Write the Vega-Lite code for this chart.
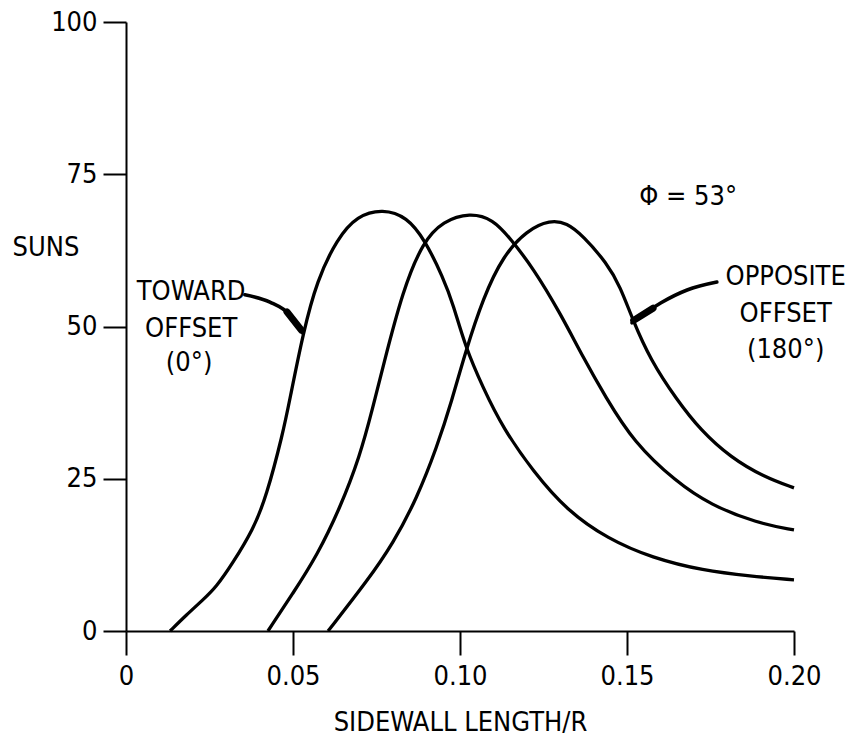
{
  "$schema": "https://vega.github.io/schema/vega-lite/v6.json",
  "width": 668,
  "height": 609,
  "autosize": "none",
  "padding": {"left": 126, "top": 22, "right": 58, "bottom": 115},
  "background": "white",
  "config": {
    "view": {"stroke": null},
    "font": "DejaVu Sans Condensed, Roboto, sans-serif",
    "axis": {
      "grid": false,
      "domainColor": "black",
      "domainWidth": 2,
      "tickColor": "black",
      "tickWidth": 2,
      "labelColor": "black",
      "titleColor": "black",
      "labelFontSize": 27,
      "titleFontSize": 27,
      "titleFontWeight": "normal",
      "labelFont": "DejaVu Sans Condensed, Roboto, sans-serif",
      "titleFont": "DejaVu Sans Condensed, Roboto, sans-serif"
    }
  },
  "datasets": {
    "curves": [
      {"series": "toward", "x": 0.0132, "y": 0},
      {"series": "toward", "x": 0.018, "y": 2.6},
      {"series": "toward", "x": 0.023, "y": 5.1},
      {"series": "toward", "x": 0.027, "y": 7.2},
      {"series": "toward", "x": 0.032, "y": 11.2},
      {"series": "toward", "x": 0.038, "y": 16.6},
      {"series": "toward", "x": 0.042, "y": 22.0},
      {"series": "toward", "x": 0.047, "y": 32.5},
      {"series": "toward", "x": 0.049, "y": 37.9},
      {"series": "toward", "x": 0.053, "y": 48.9},
      {"series": "toward", "x": 0.0572, "y": 57.6},
      {"series": "toward", "x": 0.0632, "y": 64.4},
      {"series": "toward", "x": 0.0692, "y": 68.2},
      {"series": "toward", "x": 0.0769, "y": 69.3},
      {"series": "toward", "x": 0.0841, "y": 68.0},
      {"series": "toward", "x": 0.0895, "y": 64.2},
      {"series": "toward", "x": 0.0949, "y": 58.1},
      {"series": "toward", "x": 0.098, "y": 53.6},
      {"series": "toward", "x": 0.1015, "y": 46.8},
      {"series": "toward", "x": 0.107, "y": 39.8},
      {"series": "toward", "x": 0.1129, "y": 33.3},
      {"series": "toward", "x": 0.1219, "y": 26.2},
      {"series": "toward", "x": 0.132, "y": 19.8},
      {"series": "toward", "x": 0.1443, "y": 15.1},
      {"series": "toward", "x": 0.1575, "y": 12.0},
      {"series": "toward", "x": 0.1728, "y": 9.9},
      {"series": "toward", "x": 0.187, "y": 9.0},
      {"series": "toward", "x": 0.2, "y": 8.4},
      {"series": "middle", "x": 0.0425, "y": 0},
      {"series": "middle", "x": 0.05, "y": 6.2},
      {"series": "middle", "x": 0.0572, "y": 12.4},
      {"series": "middle", "x": 0.064, "y": 20.1},
      {"series": "middle", "x": 0.07, "y": 28.6},
      {"series": "middle", "x": 0.074, "y": 36.9},
      {"series": "middle", "x": 0.0769, "y": 43.3},
      {"series": "middle", "x": 0.0829, "y": 56.0},
      {"series": "middle", "x": 0.0889, "y": 63.9},
      {"series": "middle", "x": 0.0949, "y": 67.3},
      {"series": "middle", "x": 0.103, "y": 68.7},
      {"series": "middle", "x": 0.1099, "y": 67.6},
      {"series": "middle", "x": 0.115, "y": 64.5},
      {"series": "middle", "x": 0.1219, "y": 59.6},
      {"series": "middle", "x": 0.13, "y": 52.2},
      {"series": "middle", "x": 0.1368, "y": 45.0},
      {"series": "middle", "x": 0.1435, "y": 38.5},
      {"series": "middle", "x": 0.152, "y": 31.0},
      {"series": "middle", "x": 0.1647, "y": 24.5},
      {"series": "middle", "x": 0.175, "y": 20.7},
      {"series": "middle", "x": 0.189, "y": 17.7},
      {"series": "middle", "x": 0.2, "y": 16.6},
      {"series": "opposite", "x": 0.0605, "y": 0},
      {"series": "opposite", "x": 0.0722, "y": 8.2},
      {"series": "opposite", "x": 0.08, "y": 14.4},
      {"series": "opposite", "x": 0.0871, "y": 21.8},
      {"series": "opposite", "x": 0.0931, "y": 30.2},
      {"series": "opposite", "x": 0.0976, "y": 37.9},
      {"series": "opposite", "x": 0.1015, "y": 45.6},
      {"series": "opposite", "x": 0.107, "y": 54.8},
      {"series": "opposite", "x": 0.1129, "y": 61.6},
      {"series": "opposite", "x": 0.12, "y": 65.8},
      {"series": "opposite", "x": 0.127, "y": 67.5},
      {"series": "opposite", "x": 0.132, "y": 67.0},
      {"series": "opposite", "x": 0.1368, "y": 64.9},
      {"series": "opposite", "x": 0.144, "y": 60.4},
      {"series": "opposite", "x": 0.148, "y": 56.5},
      {"series": "opposite", "x": 0.1515, "y": 51.4},
      {"series": "opposite", "x": 0.157, "y": 44.5},
      {"series": "opposite", "x": 0.165, "y": 37.9},
      {"series": "opposite", "x": 0.172, "y": 33.0},
      {"series": "opposite", "x": 0.181, "y": 28.5},
      {"series": "opposite", "x": 0.191, "y": 25.3},
      {"series": "opposite", "x": 0.2, "y": 23.5}
    ],
    "arrows": [
      {"arrow": "toward", "x": 0.0356, "y": 55.2},
      {"arrow": "toward", "x": 0.0431, "y": 54.0},
      {"arrow": "toward", "x": 0.0491, "y": 51.9},
      {"arrow": "toward", "x": 0.053, "y": 48.9},
      {"arrow": "opposite", "x": 0.1515, "y": 50.6},
      {"arrow": "opposite", "x": 0.1602, "y": 53.9},
      {"arrow": "opposite", "x": 0.168, "y": 56.0},
      {"arrow": "opposite", "x": 0.1769, "y": 57.3}
    ],
    "heads": [
      {"arrow": "toward", "x": 0.0482, "y": 52.4},
      {"arrow": "toward", "x": 0.0525, "y": 49.4},
      {"arrow": "opposite", "x": 0.152, "y": 51.0},
      {"arrow": "opposite", "x": 0.1578, "y": 53.0}
    ],
    "labels": [
      {"x": 0.0195, "y": 55.7, "label": "TOWARD"},
      {"x": 0.0195, "y": 49.6, "label": "OFFSET"},
      {"x": 0.0189, "y": 44.0, "label": "(0°)"},
      {"x": 0.1975, "y": 58.1, "label": "OPPOSITE"},
      {"x": 0.1975, "y": 52.1, "label": "OFFSET"},
      {"x": 0.1975, "y": 46.1, "label": "(180°)"},
      {"x": 0.1683, "y": 71.3, "label": "Φ = 53°"}
    ]
  },
  "encoding": {
    "x": {
      "field": "x",
      "type": "quantitative",
      "scale": {"domain": [0, 0.2], "nice": false, "zero": false},
      "axis": {
        "values": [0, 0.05, 0.1, 0.15, 0.2],
        "labelExpr": "datum.value == 0 ? '0' : format(datum.value, '.2f')",
        "tickSize": 24,
        "labelPadding": 8,
        "labelFlush": false,
        "title": "SIDEWALL LENGTH/R",
        "titleY": 91,
        "titleBaseline": "middle"
      }
    },
    "y": {
      "field": "y",
      "type": "quantitative",
      "scale": {"domain": [0, 100], "nice": false},
      "axis": {
        "values": [0, 25, 50, 75, 100],
        "tickSize": 23,
        "labelPadding": 6,
        "labelFlush": false,
        "title": "SUNS",
        "titleAngle": 0,
        "titleAlign": "left",
        "titleBaseline": "middle",
        "titleX": -114,
        "titleY": 225
      }
    }
  },
  "layer": [
    {
      "data": {"name": "curves"},
      "mark": {"type": "line", "color": "black", "strokeWidth": 3.3, "interpolate": "basis"},
      "encoding": {"detail": {"field": "series"}}
    },
    {
      "data": {"name": "arrows"},
      "mark": {"type": "line", "color": "black", "strokeWidth": 3.6, "interpolate": "monotone", "strokeCap": "round"},
      "encoding": {"detail": {"field": "arrow"}}
    },
    {
      "data": {"name": "heads"},
      "mark": {"type": "line", "color": "black", "strokeWidth": 7, "strokeCap": "round"},
      "encoding": {"detail": {"field": "arrow"}}
    },
    {
      "data": {"name": "labels"},
      "mark": {"type": "text", "color": "black", "fontSize": 27, "align": "center", "baseline": "middle", "font": "DejaVu Sans Condensed, Roboto, sans-serif"},
      "encoding": {"text": {"field": "label"}}
    }
  ]
}
